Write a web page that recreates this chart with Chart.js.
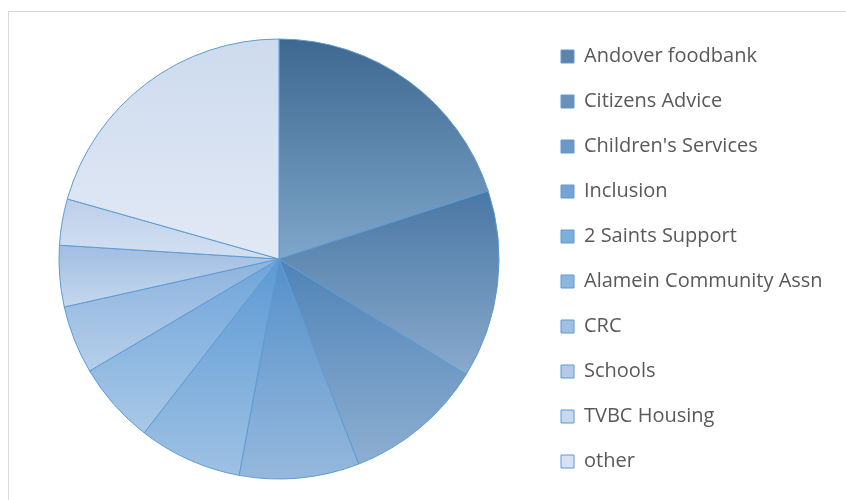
<!DOCTYPE html>
<html>
<head>
<meta charset="utf-8">
<script src="https://cdn.jsdelivr.net/npm/chart.js@4"></script>
<style>
  html, body { margin: 0; padding: 0; background: #ffffff; overflow: hidden; }
  #frame { position: absolute; left: 8px; top: 11px; width: 900px; height: 600px; border: 1px solid #d9d9d9; box-sizing: border-box; }
  #wrap { position: absolute; left: 0; top: 0; width: 846px; height: 500px; }
</style>
</head>
<body>
<div id="frame"></div>
<div id="wrap"><canvas id="c" width="846" height="500"></canvas></div>
<script>
const categories = ["Andover foodbank", "Citizens Advice", "Children's Services", "Inclusion", "2 Saints Support", "Alamein Community Assn", "CRC", "Schools", "TVBC Housing", "other"];
const values = [20.0, 13.8, 10.3, 8.8, 7.6, 6.0, 5.0, 4.5, 3.4, 20.6];
const topColors = ["#3d6890", "#4a77a4", "#4e83b7", "#5490ca", "#5c9ad5", "#6fa5da", "#8db3de", "#a1bde2", "#bccfea", "#cddbee"];
const bottomColors = ["#7fa6cb", "#89aacd", "#8eaed1", "#96b8dc", "#9fc1e3", "#a9c8e7", "#b6cfea", "#c5d7ee", "#d3e0f1", "#e2e9f5"];
const legendColors = ["#5b84ab", "#6890b9", "#6d98c3", "#75a4d3", "#7eaedc", "#8cb6e0", "#a1c1e4", "#b3cae8", "#c8d8ee", "#d8e2f2"];

const RADIUS = 220;

function sliceGradient(context) {
  const chart = context.chart;
  const i = context.dataIndex;
  const area = chart.chartArea;
  if (!area || i === undefined) return legendColors[i] || '#5b9bd5';
  const cx = (area.left + area.right) / 2;
  const cy = (area.top + area.bottom) / 2;
  const total = values.reduce((a, b) => a + b, 0);
  let cum = 0;
  for (let k = 0; k < i; k++) cum += values[k];
  const a0 = -Math.PI / 2 + 2 * Math.PI * cum / total;
  const a1 = -Math.PI / 2 + 2 * Math.PI * (cum + values[i]) / total;
  const ys = [cy, cy + RADIUS * Math.sin(a0), cy + RADIUS * Math.sin(a1)];
  for (const ex of [-Math.PI / 2, Math.PI / 2, 3 * Math.PI / 2]) {
    if (ex >= a0 && ex <= a1) ys.push(cy + RADIUS * Math.sin(ex));
  }
  const yTop = Math.min(...ys), yBot = Math.max(...ys);
  const g = chart.ctx.createLinearGradient(0, yTop, 0, yBot);
  g.addColorStop(0, topColors[i]);
  g.addColorStop(1, bottomColors[i]);
  return g;
}

const FONT_FAMILY = "'Open Sans', sans-serif";
const FONT_SIZE = 20;

const chart = new Chart(document.getElementById('c'), {
  type: 'pie',
  data: {
    labels: categories,
    datasets: [{
      data: values,
      backgroundColor: sliceGradient,
      borderColor: '#5b9bd5',
      borderWidth: 1,
      radius: RADIUS
    }]
  },
  options: {
    responsive: false,
    animation: false,
    events: [],
    layout: { padding: { left: 20, right: 0, top: 18, bottom: 0 } },
    plugins: {
      tooltip: { enabled: false },
      legend: {
        position: 'right',
        align: 'center',
        labels: {
          boxWidth: 13,
          boxHeight: 13,
          padding: 25,
          color: '#595959',
          font: { family: FONT_FAMILY, size: FONT_SIZE },
          generateLabels: function(ch) {
            return categories.map((name, i) => ({
              text: name,
              fillStyle: legendColors[i],
              strokeStyle: '#5b9bd5',
              lineWidth: 1,
              hidden: false,
              index: i,
              fontColor: '#595959'
            }));
          }
        }
      }
    }
  }
});

// adjust paddings so that the legend boxes start near x = 561 and the pie center sits at x = 279
const pad = 25;
const targetLegendLeft = 561 - pad;
const dx = targetLegendLeft - chart.legend.left;
chart.options.layout.padding.right = Math.max(0, -dx);
chart.options.layout.padding.left = 558 - targetLegendLeft;
chart.update();
</script>
</body>
</html>
